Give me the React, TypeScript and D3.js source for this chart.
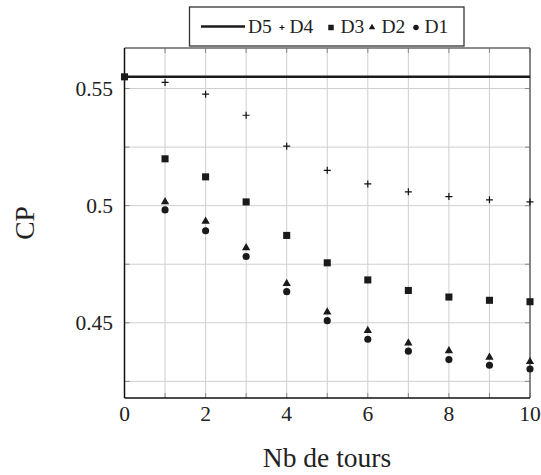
import React from "react";
import * as d3 from "d3";

const rounds = [0, 1, 2, 3, 4, 5, 6, 7, 8, 9, 10];
const d5Value = 0.555;
const d4Values = [null, 0.5526, 0.5476, 0.5386, 0.5254, 0.5151, 0.5093, 0.5059, 0.5039, 0.5025, 0.5016];
const d3Values = [0.555, 0.52, 0.5123, 0.5016, 0.4873, 0.4756, 0.4683, 0.4638, 0.461, 0.4596, 0.459];
const d2Values = [null, 0.5016, 0.4933, 0.482, 0.4667, 0.4546, 0.4467, 0.4413, 0.438, 0.4353, 0.4334];
const d1Values = [null, 0.4982, 0.4893, 0.4783, 0.4633, 0.4509, 0.443, 0.4379, 0.4343, 0.4319, 0.4303];
const xTickLabels = [0, 2, 4, 6, 8, 10];
const xGrid = [0, 1, 2, 3, 4, 5, 6, 7, 8, 9, 10];
const yTickLabels = [0.45, 0.5, 0.55];
const yGrid = [0.425, 0.45, 0.475, 0.5, 0.525, 0.55];
const legendLabels = ["D5", "D4", "D3", "D2", "D1"];

const W = 541, H = 475;
const L = 124.5, R = 530, T = 48, B = 398;
const FONT = "'Liberation Serif', 'Times New Roman', Times, serif";

export default function App() {
  const x = d3.scaleLinear().domain([0, 10]).range([L, R]);
  const y = d3.scaleLinear().domain([0.4179, 0.5673]).range([B, T]);

  const sq = d3.symbol().type(d3.symbolSquare).size(50)();
  const tri = d3.symbol().type(d3.symbolTriangle).size(30)();
  const circ = d3.symbol().type(d3.symbolCircle).size(40)();
  const plus = "M-3.5,0H3.5M0,-3.5V3.5";

  const pts = (vals: (number | null)[]) =>
    rounds.map((r, i) => ({ r, v: vals[i] })).filter((p) => p.v !== null) as { r: number; v: number }[];

  const legendY = 26.5;
  const lf = 19.5;
  return (
    <svg width={W} height={H} style={{ position: "absolute", left: 0, top: 0, background: "#fff", fontFamily: FONT }}>
      <rect x={0} y={0} width={W} height={H} fill="#fff" />
      {/* grid */}
      {xGrid.map((g) => (
        <line key={"gx" + g} x1={x(g)} x2={x(g)} y1={T} y2={B} stroke="#cfcfcf" strokeWidth={1} />
      ))}
      {yGrid.map((g) => (
        <line key={"gy" + g} x1={L} x2={R} y1={y(g)} y2={y(g)} stroke="#cfcfcf" strokeWidth={1} />
      ))}
      {/* ticks */}
      {xGrid.map((g) => (
        <g key={"tx" + g} stroke="#8a8a8a" strokeWidth={1}>
          <line x1={x(g)} x2={x(g)} y1={B} y2={B - 5} />
          <line x1={x(g)} x2={x(g)} y1={T} y2={T + 5} />
        </g>
      ))}
      {yGrid.map((g) => (
        <g key={"ty" + g} stroke="#8a8a8a" strokeWidth={1}>
          <line x1={L} x2={L + 5} y1={y(g)} y2={y(g)} />
          <line x1={R} x2={R - 5} y1={y(g)} y2={y(g)} />
        </g>
      ))}
      {/* frame */}
      <line x1={L} x2={R} y1={T} y2={T} stroke="#666" strokeWidth={1.5} />
      <line x1={R} x2={R} y1={T} y2={B} stroke="#666" strokeWidth={1.5} />
      <line x1={L} x2={L} y1={T} y2={B} stroke="#111" strokeWidth={1.5} />
      <line x1={L} x2={R} y1={B} y2={B} stroke="#111" strokeWidth={1.5} />

      {/* D5 line */}
      <line x1={x(0)} x2={x(10)} y1={y(d5Value)} y2={y(d5Value)} stroke="#1a1a1a" strokeWidth={2.4} />
      {/* D4 plus */}
      {pts(d4Values).map((p) => (
        <path key={"d4" + p.r} d={plus} transform={`translate(${x(p.r)},${y(p.v)})`} stroke="#111" strokeWidth={1.2} fill="none" />
      ))}
      {pts(d3Values).map((p) => (
        <path key={"d3" + p.r} d={sq!} transform={`translate(${x(p.r)},${y(p.v)})`} fill="#1a1a1a" />
      ))}
      {pts(d2Values).map((p) => (
        <path key={"d2" + p.r} d={tri!} transform={`translate(${x(p.r)},${y(p.v)})`} fill="#1a1a1a" />
      ))}
      {pts(d1Values).map((p) => (
        <path key={"d1" + p.r} d={circ!} transform={`translate(${x(p.r)},${y(p.v)})`} fill="#1a1a1a" />
      ))}

      {/* tick labels */}
      {xTickLabels.map((t) => (
        <text key={"xl" + t} x={x(t)} y={421} textAnchor="middle" fontSize={21.5} fill="#222">
          {t}
        </text>
      ))}
      {yTickLabels.map((t) => (
        <text key={"yl" + t} x={113} y={y(t) + 7} textAnchor="end" fontSize={21.5} fill="#222">
          {String(t)}
        </text>
      ))}

      {/* axis titles */}
      <text x={327} y={467} textAnchor="middle" fontSize={27.5} fill="#222">Nb de tours</text>
      <text transform={`translate(34,223) rotate(-90)`} textAnchor="middle" fontSize={27.5} fill="#222">CP</text>

      {/* legend */}
      <rect x={189.5} y={7} width={274.5} height={39} fill="#fff" stroke="#333" strokeWidth={1.3} />
      <line x1={201} x2={245} y1={legendY} y2={legendY} stroke="#1a1a1a" strokeWidth={2.4} />
      <text x={248} y={legendY + 6.5} fontSize={lf} fill="#222">{legendLabels[0]}</text>
      <path d="M-2.5,0H2.5M0,-2.5V2.5" transform={`translate(282,${legendY + 1})`} stroke="#111" strokeWidth={1.1} />
      <text x={289.5} y={legendY + 6.5} fontSize={lf} fill="#222">{legendLabels[1]}</text>
      <path d={d3.symbol().type(d3.symbolSquare).size(30)()!} transform={`translate(331,${legendY + 1})`} fill="#1a1a1a" />
      <text x={340.5} y={legendY + 6.5} fontSize={lf} fill="#222">{legendLabels[2]}</text>
      <path d={d3.symbol().type(d3.symbolTriangle).size(18)()!} transform={`translate(372,${legendY + 1})`} fill="#1a1a1a" />
      <text x={381.5} y={legendY + 6.5} fontSize={lf} fill="#222">{legendLabels[3]}</text>
      <path d={d3.symbol().type(d3.symbolCircle).size(24)()!} transform={`translate(416,${legendY + 1})`} fill="#1a1a1a" />
      <text x={424.5} y={legendY + 6.5} fontSize={lf} fill="#222">{legendLabels[4]}</text>
    </svg>
  );
}
